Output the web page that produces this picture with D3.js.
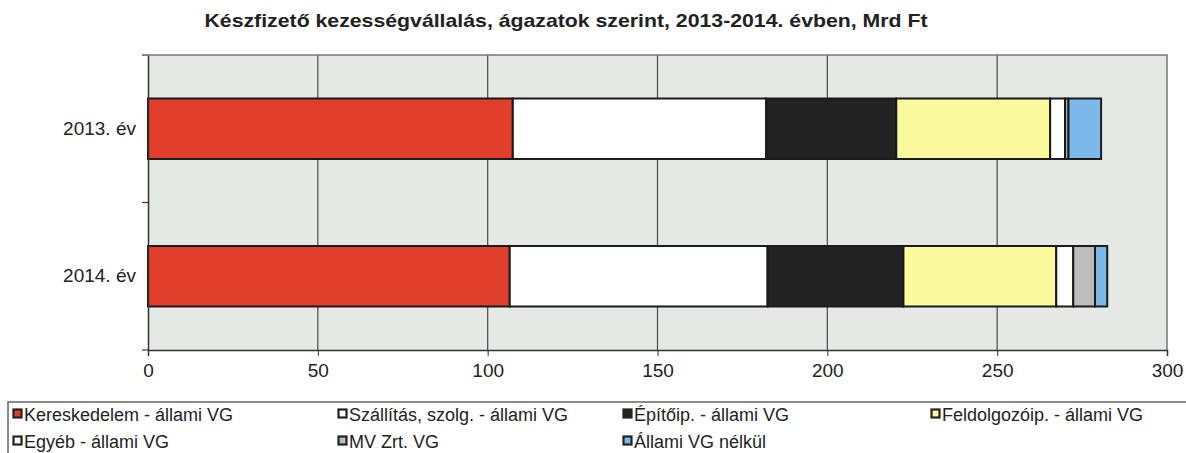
<!DOCTYPE html>
<html><head><meta charset="utf-8">
<script src="https://cdn.jsdelivr.net/npm/d3@7"></script>
<style>body{margin:0;background:#fff}svg{display:block}</style>
</head><body>
<script>
const title = "Készfizető kezességvállalás, ágazatok szerint, 2013-2014. évben, Mrd Ft";
const categories = ["2013. év", "2014. év"];
const seriesNames = ["Kereskedelem - állami VG", "Szállítás, szolg. - állami VG", "Építőip. - állami VG", "Feldolgozóip. - állami VG", "Egyéb - állami VG", "MV Zrt. VG", "Állami VG nélkül"];
const seriesColors = ["#e23e2c", "#ffffff", "#232323", "#fbfb9e", "#ffffff", "#bdbdbd", "#7cb9e8"];
const kereskedelem = [107.4, 106.5];
const szallitas = [74.6, 75.9];
const epitoip = [38.3, 40.0];
const feldolgozoip = [45.3, 45.0];
const egyeb = [4.4, 5.0];
const mvzrt = [1.0, 6.4];
const allamiNelkul = [9.6, 3.6];
const xTicks = [0, 50, 100, 150, 200, 250, 300];

const W = 1186, H = 453;
const M = {left: 148, right: 1167, top: 55, bottom: 350};
const FONT = "'Liberation Sans', Arial, sans-serif";
const svg = d3.select("body").append("svg").attr("width", W).attr("height", H)
  .style("font-family", FONT);

const series = [kereskedelem, szallitas, epitoip, feldolgozoip, egyeb, mvzrt, allamiNelkul];
const rows = categories.map((c, i) => {
  const o = {cat: c};
  seriesNames.forEach((n, j) => o[n] = series[j][i]);
  return o;
});
const stacked = d3.stack().keys(seriesNames)(rows);

const x = d3.scaleLinear().domain([0, 300]).range([M.left, M.right]);
const y = d3.scaleBand().domain(categories).range([M.top, M.bottom]).paddingInner(0.59).paddingOuter(0.295);
const yb = d3.scaleBand().domain(categories).range([M.top, M.bottom]);

// title
svg.append("text").attr("x", 566).attr("y", 27).attr("text-anchor", "middle")
  .attr("font-weight", "bold").attr("font-size", 19).attr("fill", "#222")
  .attr("textLength", 723).attr("lengthAdjust", "spacingAndGlyphs").text(title);

// plot bg
svg.append("rect").attr("x", M.left).attr("y", M.top).attr("width", M.right - M.left).attr("height", M.bottom - M.top)
  .attr("fill", "#e4e9e5");

// grid
svg.append("g").selectAll("line").data(xTicks.slice(1, -1)).join("line")
  .attr("x1", d => x(d)).attr("x2", d => x(d)).attr("y1", M.top).attr("y2", M.bottom)
  .attr("stroke", "#4a4a4a").attr("stroke-width", 1.2);

// border top/right
svg.append("path").attr("d", `M${M.left},${M.top}H${M.right}V${M.bottom}`)
  .attr("fill", "none").attr("stroke", "#777").attr("stroke-width", 1.5);

// bars
svg.append("g").selectAll("g").data(stacked).join("g")
  .attr("fill", (d, i) => seriesColors[i])
  .selectAll("rect").data(d => d).join("rect")
  .attr("x", d => x(d[0])).attr("width", d => x(d[1]) - x(d[0]))
  .attr("y", d => y(d.data.cat)).attr("height", y.bandwidth())
  .attr("stroke", "#1a1a1a").attr("stroke-width", 2);

// x axis
const xa = svg.append("g").attr("transform", `translate(0,${M.bottom})`)
  .call(d3.axisBottom(x).tickValues(xTicks).tickSize(6).tickPadding(8));
xa.select(".domain").attr("stroke", "#333").attr("stroke-width", 1.5);
xa.selectAll(".tick line").attr("stroke", "#333");
xa.selectAll("text").attr("font-size", 19).attr("fill", "#222").attr("font-family", FONT);

// y axis
const ya = svg.append("g").attr("transform", `translate(${M.left},0)`)
  .call(d3.axisLeft(yb).tickSize(0).tickPadding(12));
ya.select(".domain").attr("stroke", "#333").attr("stroke-width", 1.5);
ya.selectAll("text").attr("font-size", 19).attr("fill", "#222").attr("font-family", FONT);
// band boundary ticks
svg.append("g").selectAll("line").data([M.top, yb(categories[1]), M.bottom]).join("line")
  .attr("x1", M.left - 6).attr("x2", M.left).attr("y1", d => d).attr("y2", d => d)
  .attr("stroke", "#333").attr("stroke-width", 1.2);

// legend
svg.append("rect").attr("x", 8).attr("y", 402).attr("width", 1200).attr("height", 100)
  .attr("fill", "#fff").attr("stroke", "#666").attr("stroke-width", 1.5);
const colX = [12, 337, 622, 930];
const lg = svg.append("g").selectAll("g").data(seriesNames).join("g")
  .attr("transform", (d, i) => `translate(${colX[i % 4]},${i < 4 ? 414 : 441})`);
lg.append("rect").attr("x", 1.5).attr("y", -4.5).attr("width", 8).attr("height", 8)
  .attr("fill", (d, i) => seriesColors[i]).attr("stroke", "#222").attr("stroke-width", 2.2);
lg.append("text").attr("x", 12).attr("y", 6.5).attr("font-size", 18).attr("fill", "#222").text(d => d);
</script>
</body></html>
